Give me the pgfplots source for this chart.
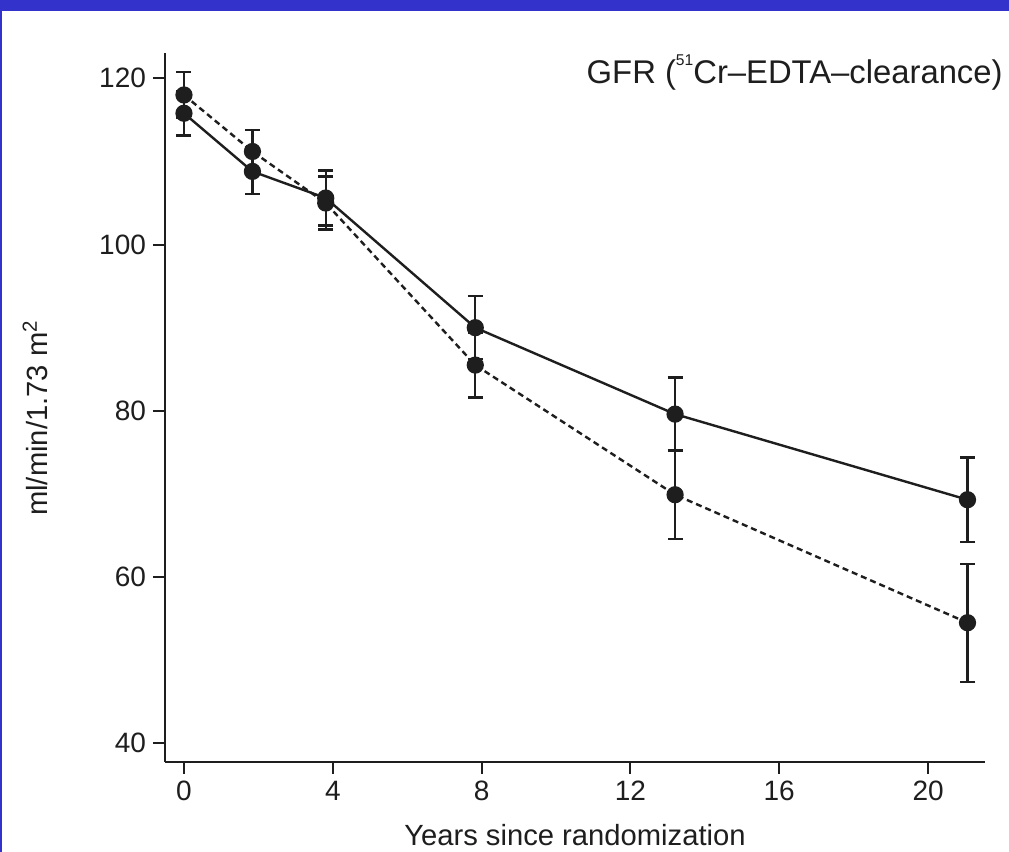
\documentclass[border=0pt]{standalone}
\usepackage{fontspec}
\setmainfont{Liberation Sans}
\usepackage{pgfplots}
\pgfplotsset{compat=1.18}
\definecolor{framebar}{RGB}{51,51,204}
\definecolor{ink}{RGB}{30,30,30}
\newcommand\fs{\fontsize{14}{17}\selectfont}
\newcommand\fl{\fontsize{14.6}{17}\selectfont}

\begin{document}
\begin{tikzpicture}
  % page = 1009 x 852 px at 0.5pt per px
  \useasboundingbox (0,0) rectangle (504.5pt,426pt);
  \fill[white] (0,0) rectangle (504.5pt,426pt);
  \fill[framebar] (0,420.5pt) rectangle (504.5pt,426pt);
  \fill[framebar] (0,0) rectangle (1pt,426pt);

  \begin{axis}[
      at={(82.5pt,45.15pt)}, anchor=south west,
      scale only axis, width=410pt, height=354.35pt,
      xmin=-0.51, xmax=21.53, ymin=37.78, ymax=123.05,
      axis x line*=bottom, axis y line*=left,
      axis line style={line width=1pt, ink, -},
      x axis line style={-}, y axis line style={-},
      xtick={0,4,...,20}, ytick={40,60,...,120},
      tick align=outside, major tick length=6pt,
      tick style={line width=1pt, ink},
      ticklabel style={font=\fs, ink},
      /pgf/number format/assume math mode=true,
      xlabel={Years since randomization},
      ylabel={ml/min/1.73 m\textsuperscript{2}},
      every axis x label/.style={at={(axis description cs:0.5,-0.103)}, anchor=center, font=\fl, ink},
      every axis y label/.style={at={(axis description cs:-0.1585,0.485)}, rotate=90, anchor=center, font=\fl, ink},
      clip=false,
    ]
    % solid series
    \addplot[ink, line width=1.2pt, mark=*, mark size=3.7pt, mark options={solid, fill=ink},
      error bars/.cd, y dir=both, y explicit,
      error bar style={line width=1.2pt, solid},
      error mark=-,
      error mark options={rotate=90, line width=1.2pt, mark size=3.75pt, solid}]
      coordinates {
        (0,115.8) +- (0,2.7)
        (1.84,108.8) +- (0,2.7)
        (3.81,105.6) +- (0,3.3)
        (7.83,90.0) +- (0,3.8)
        (13.2,79.6) +- (0,4.4)
        (21.06,69.3) +- (0,5.1)
      };
    % dashed series
    \addplot[ink, line width=1.2pt, dash pattern=on 3pt off 2pt, mark=*, mark size=3.7pt, mark options={solid, fill=ink},
      error bars/.cd, y dir=both, y explicit,
      error bar style={line width=1.2pt, solid},
      error mark=-,
      error mark options={rotate=90, line width=1.2pt, mark size=3.75pt, solid}]
      coordinates {
        (0,118.0) +- (0,2.8)
        (1.84,111.2) +- (0,2.6)
        (3.81,105.0) +- (0,3.2)
        (7.83,85.5) +- (0,3.9)
        (13.2,69.9) +- (0,5.3)
        (21.06,54.5) +- (0,7.1)
      };
  \end{axis}

  \node[anchor=base east, font=\fontsize{16.4}{19}\selectfont, ink, inner sep=0pt] at (501.5pt,384.35pt)
    {GFR (\raisebox{0.55em}{\fontsize{7.8}{8}\selectfont 51}Cr–EDTA–clearance)};
\end{tikzpicture}
\end{document}
